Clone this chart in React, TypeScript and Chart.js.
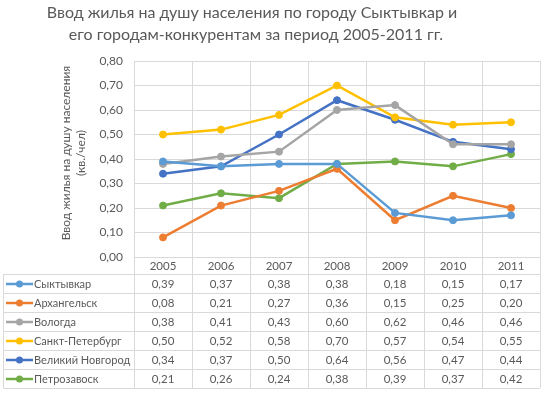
import React, { useEffect, useRef } from "react";
import { Chart, registerables } from "chart.js";

Chart.register(...registerables);

// ---- data ----
const years = ["2005", "2006", "2007", "2008", "2009", "2010", "2011"];
const syktyvkar = [0.39, 0.37, 0.38, 0.38, 0.18, 0.15, 0.17];
const arkhangelsk = [0.08, 0.21, 0.27, 0.36, 0.15, 0.25, 0.2];
const vologda = [0.38, 0.41, 0.43, 0.6, 0.62, 0.46, 0.46];
const spb = [0.5, 0.52, 0.58, 0.7, 0.57, 0.54, 0.55];
const novgorod = [0.34, 0.37, 0.5, 0.64, 0.56, 0.47, 0.44];
const petrozavodsk = [0.21, 0.26, 0.24, 0.38, 0.39, 0.37, 0.42];

const seriesNames = ["Сыктывкар", "Архангельск", "Вологда", "Санкт-Петербург", "Великий Новгород", "Петрозавоск"];
const seriesValues = [syktyvkar, arkhangelsk, vologda, spb, novgorod, petrozavodsk];
const seriesColors = ["#5B9BD5", "#ED7D31", "#A5A5A5", "#FFC000", "#4472C4", "#70AD47"];

const titleLines = ["Ввод жилья на душу населения по городу Сыктывкар и", "его городам-конкурентам за период 2005-2011 гг."];
const yTitleLines = ["Ввод жилья на душу населения", "(кв./чел)"];

const FONT = "Lato, 'Open Sans', sans-serif";
const TEXT = "#595959";
const GRID = "#d9d9d9";

const fmt = (v: number) => v.toFixed(2).replace(".", ",");

const tablePlugin = {
  id: "dataTable",
  afterDraw(chart: any) {
    const ctx: CanvasRenderingContext2D = chart.ctx;
    const area = chart.chartArea;
    const xs = chart.scales.x;
    const n = years.length;
    const colW = (area.right - area.left) / n;
    const headerTop = area.bottom;
    const tableTop = headerTop + 17;
    const rowH = 19;
    const tableBottom = tableTop + rowH * seriesNames.length;
    const leftX = 3.5;

    ctx.save();
    // grid of table
    ctx.strokeStyle = GRID;
    ctx.lineWidth = 1;
    ctx.beginPath();
    for (let i = 0; i <= n; i++) {
      const x = Math.round(area.left + i * colW) + 0.5;
      ctx.moveTo(x, headerTop);
      ctx.lineTo(x, tableBottom);
    }
    ctx.moveTo(leftX, tableTop);
    ctx.lineTo(leftX, tableBottom);
    for (let r = 0; r <= seriesNames.length; r++) {
      const y = Math.round(tableTop + r * rowH) + 0.5;
      ctx.moveTo(leftX, y);
      ctx.lineTo(area.right, y);
    }
    ctx.stroke();

    // header
    ctx.fillStyle = TEXT;
    ctx.font = `11.5px ${FONT}`;
    ctx.textAlign = "center";
    ctx.textBaseline = "middle";
    years.forEach((yr, i) => {
      ctx.fillText(yr, xs.getPixelForValue(i), (headerTop + tableTop) / 2 + 0.5);
    });

    // rows
    seriesNames.forEach((name, r) => {
      const cy = tableTop + r * rowH + rowH / 2 + 0.5;
      // legend key
      ctx.strokeStyle = seriesColors[r];
      ctx.lineWidth = 2.5;
      ctx.beginPath();
      ctx.moveTo(6, cy);
      ctx.lineTo(33, cy);
      ctx.stroke();
      ctx.fillStyle = seriesColors[r];
      ctx.beginPath();
      ctx.arc(19.5, cy, 3.5, 0, Math.PI * 2);
      ctx.fill();
      ctx.fillStyle = TEXT;
      ctx.textAlign = "left";
      ctx.font = `11px ${FONT}`;
      ctx.fillText(name, 34, cy);
      ctx.font = `11.5px ${FONT}`;
      ctx.textAlign = "center";
      seriesValues[r].forEach((v, i) => {
        ctx.fillText(fmt(v), xs.getPixelForValue(i), cy);
      });
    });

    // chart title
    ctx.fillStyle = TEXT;
    ctx.font = `16px ${FONT}`;
    ctx.textAlign = "center";
    ctx.textBaseline = "alphabetic";
    ctx.fillText(titleLines[0], 252, 18);
    ctx.fillText(titleLines[1], 256, 40);

    // y axis title
    ctx.font = `12px ${FONT}`;
    ctx.textBaseline = "middle";
    ctx.translate(66, 153);
    ctx.rotate(-Math.PI / 2);
    ctx.fillText(yTitleLines[0], 0, 0);
    ctx.fillText(yTitleLines[1], 0, 15);
    ctx.restore();
  },
};

export default function App() {
  const ref = useRef<HTMLCanvasElement | null>(null);

  useEffect(() => {
    if (!ref.current) return;
    const chart = new Chart(ref.current, {
      type: "line",
      data: {
        labels: years,
        datasets: seriesNames.map((name, i) => ({
          label: name,
          data: seriesValues[i],
          borderColor: seriesColors[i],
          backgroundColor: seriesColors[i],
          pointBackgroundColor: seriesColors[i],
          pointBorderColor: seriesColors[i],
          borderWidth: 2.5,
          pointRadius: 3.5,
          pointBorderWidth: 1,
          tension: 0,
        })),
      },
      options: {
        responsive: false,
        animation: false,
        layout: { padding: { top: 61, bottom: 138, left: 0, right: 6 } },
        plugins: {
          legend: { display: false },
          title: { display: false },
          tooltip: { enabled: false },
        },
        scales: {
          x: {
            type: "category",
            offset: true,
            ticks: { display: false },
            grid: { offset: true, color: GRID, drawTicks: false, lineWidth: 1 },
            border: { display: false },
            afterFit: (s: any) => {
              s.height = 0;
            },
          },
          y: {
            min: 0,
            max: 0.8,
            ticks: {
              stepSize: 0.1,
              color: TEXT,
              font: { family: FONT, size: 12 },
              padding: 11,
              callback: (v: any) => fmt(Number(v)),
            },
            grid: { color: GRID, drawTicks: false, lineWidth: 1 },
            border: { display: false },
            afterFit: (s: any) => {
              s.width = 134;
            },
          },
        },
      },
      plugins: [tablePlugin],
    });
    return () => chart.destroy();
  }, []);

  return (
    <div style={{ position: "absolute", left: 0, top: 0, width: 546, height: 395, background: "#fff" }}>
      <canvas ref={ref} width={546} height={395} style={{ display: "block" }} />
    </div>
  );
}
